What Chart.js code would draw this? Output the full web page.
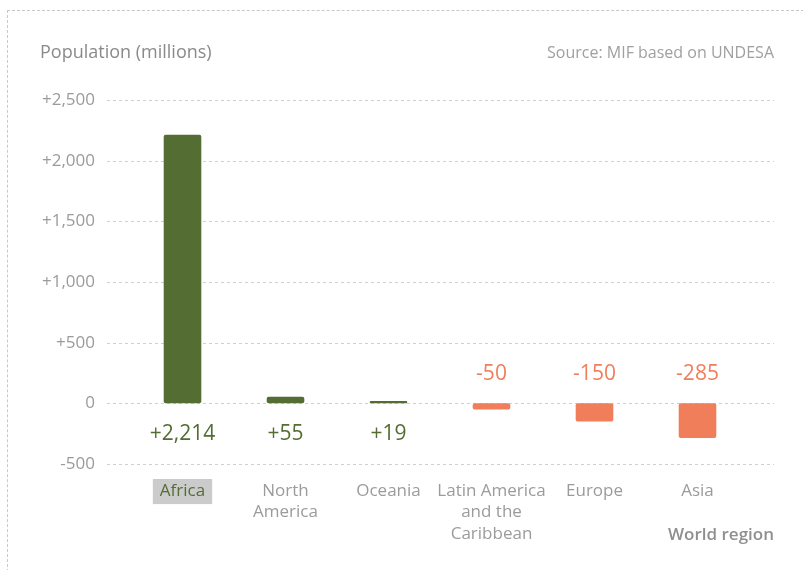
<!DOCTYPE html>
<html>
<head>
<meta charset="utf-8">
<script src="https://cdn.jsdelivr.net/npm/chart.js@4"></script>
<style>
  html, body { margin: 0; padding: 0; background: #fff; }
  body { width: 803px; height: 570px; position: relative; overflow: hidden; font-family: "Open Sans", Lato, sans-serif; }
  #frame { position: absolute; left: 7px; top: 10px; width: 820px; height: 600px; border: 1px dashed #c8c8c8; }
  #wrap { position: absolute; left: 0; top: 0; width: 803px; height: 570px; }
  .txt { position: absolute; color: #8a8a8a; white-space: nowrap; line-height: 1; }
  #title { left: 40px; top: 42px; font-size: 18px; }
  #source { right: 29px; top: 44px; font-size: 16px; color: #a0a0a0; }
  #xtitle { right: 29px; top: 525px; font-size: 17px; font-weight: 600; color: #8f8f8f; }
</style>
</head>
<body>
<div id="frame"></div>
<div id="wrap"><canvas id="chart" width="803" height="570"></canvas></div>
<div class="txt" id="title">Population (millions)</div>
<div class="txt" id="source">Source: MIF based on UNDESA</div>
<div class="txt" id="xtitle">World region</div>
<script>
// ==================== DATOS ====================
const regions = [['Africa'], ['North', 'America'], ['Oceania'], ['Latin America', 'and the', 'Caribbean'], ['Europe'], ['Asia']];
const change = [2214, 55, 19, -50, -150, -285];
const yTicks = [-500, 0, 500, 1000, 1500, 2000, 2500];

const GREEN = '#536d33';
const ORANGE = '#f07e5a';
const FONT = '"Open Sans", Lato, sans-serif';

const fmt = v => (v > 0 ? '+' : '') + v.toLocaleString('en-US');

// lineas de la cuadricula, mas largas que el area de barras
const gridPlugin = {
    id: 'dashGrid',
    beforeDatasetsDraw(chart) {
        const { ctx, chartArea, scales } = chart;
        ctx.save();
        ctx.strokeStyle = '#cfcfcf';
        ctx.lineWidth = 1;
        ctx.setLineDash([3, 3]);
        yTicks.forEach(t => {
            const y = Math.round(scales.y.getPixelForValue(t)) + 0.5;
            ctx.beginPath();
            ctx.moveTo(chartArea.left - 24, y);
            ctx.lineTo(chartArea.right + 25, y);
            ctx.stroke();
        });
        ctx.restore();
    }
};

// etiquetas de valor
const valuePlugin = {
    id: 'values',
    afterDatasetsDraw(chart) {
        const { ctx, scales } = chart;
        const meta = chart.getDatasetMeta(0);
        const zero = scales.y.getPixelForValue(0);
        ctx.save();
        ctx.font = '21px ' + FONT;
        ctx.textAlign = 'center';
        ctx.textBaseline = 'middle';
        meta.data.forEach((bar, i) => {
            const v = change[i];
            ctx.fillStyle = v >= 0 ? GREEN : ORANGE;
            ctx.fillText(fmt(v), bar.x, v >= 0 ? zero + 31 : zero - 29);
        });
        ctx.restore();
    }
};

new Chart(document.getElementById('chart'), {
    type: 'bar',
    data: {
        labels: regions,
        datasets: [{
            data: change,
            backgroundColor: change.map(v => v >= 0 ? GREEN : ORANGE),
            borderRadius: 2,
            borderSkipped: false,
            barPercentage: 0.365,
            categoryPercentage: 1
        }]
    },
    options: {
        responsive: false,
        animation: false,
        events: [],
        layout: { padding: { left: 11, right: 54, top: 100, bottom: 26 } },
        plugins: { legend: { display: false }, tooltip: { enabled: false } },
        scales: {
            x: {
                grid: { display: false, drawTicks: false },
                border: { display: false },
                afterFit: s => { s.height = 80; },
                ticks: {
                    padding: 17,
                    maxRotation: 0,
                    autoSkip: false,
                    font: { family: FONT, size: 17, lineHeight: 1.24 },
                    color: c => c.index === 0 ? GREEN : '#9b9b9b',
                    showLabelBackdrop: c => c.index === 0,
                    backdropColor: '#cbcbcb',
                    backdropPadding: { top: 2, bottom: 2, left: 7, right: 7 }
                }
            },
            y: {
                min: -500,
                max: 2500,
                grid: { display: false, drawTicks: false },
                border: { display: false },
                afterFit: s => { s.width = 120; },
                ticks: {
                    stepSize: 500,
                    padding: 36,
                    font: { family: FONT, size: 17 },
                    color: '#9b9b9b',
                    callback: v => fmt(v)
                }
            }
        }
    },
    plugins: [gridPlugin, valuePlugin]
});
</script>
</body>
</html>
